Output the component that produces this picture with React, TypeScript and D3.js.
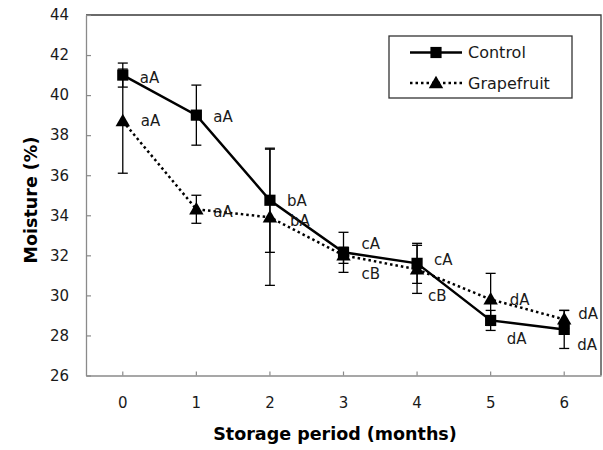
import React, { useEffect, useRef } from 'react';
import * as d3 from 'd3';

const months = ['0', '1', '2', '3', '4', '5', '6'];
const yTicks = [26, 28, 30, 32, 34, 36, 38, 40, 42, 44];

const controlMean = [41.0, 39.0, 34.75, 32.15, 31.6, 28.75, 28.3];
const controlErr = [0.6, 1.5, 2.6, 1.0, 1.0, 0.5, 0.95];
const controlLabels = ['aA', 'aA', 'bA', 'cA', 'cA', 'dA', 'dA'];

const grapeMean = [38.7, 34.3, 33.9, 32.0, 31.3, 29.8, 28.8];
const grapeErr = [2.6, 0.7, 3.4, 0.4, 1.2, 1.3, 0.45];
const grapeLabels = ['aA', 'aA', 'bA', 'cB', 'cB', 'dA', 'dA'];

const seriesNames = ['Control', 'Grapefruit'];

export default function App() {
  const svgRef = useRef<SVGSVGElement>(null);

  useEffect(() => {
    const svg = d3.select(svgRef.current);
    svg.selectAll('*').remove();

    const left = 86, right = 601, top = 15, bottom = 375.5;
    const font = 'DejaVu Sans, Verdana, sans-serif';
    const textColor = '#1a1a1a';

    const x = d3.scaleBand().domain(months).range([left, right]).padding(0);
    const cx = (m: string) => (x(m) as number) + x.bandwidth() / 2;
    const y = d3.scaleLinear().domain([26, 44]).range([bottom, top]);

    // frame (top / right border of plot area)
    svg.append('path')
      .attr('d', `M${left},${top}H${right}V${bottom}`)
      .attr('fill', 'none')
      .attr('stroke', '#3a3a3a')
      .attr('stroke-width', 1.3);

    // axes
    const yAxis = d3.axisLeft(y).tickValues(yTicks).tickSizeInner(-5).tickSizeOuter(0).tickPadding(17);
    const gy = svg.append('g').attr('transform', `translate(${left},0)`).call(yAxis);
    const xAxis = d3.axisBottom(x).tickSizeInner(-4).tickSizeOuter(0).tickPadding(22);
    const gx = svg.append('g').attr('transform', `translate(0,${bottom})`).call(xAxis);

    [gx, gy].forEach((g) => {
      g.select('.domain').attr('stroke', '#8a8a8a').attr('stroke-width', 1.3);
      g.selectAll('.tick line').attr('stroke', '#8a8a8a').attr('stroke-width', 1.2);
      g.selectAll('.tick text')
        .attr('font-family', font)
        .attr('font-size', 15)
        .attr('fill', textColor);
    });

    // axis titles
    svg.append('text')
      .attr('x', 335)
      .attr('y', 440)
      .attr('text-anchor', 'middle')
      .attr('font-family', font)
      .attr('font-weight', 'bold')
      .attr('font-size', 17.5)
      .attr('fill', '#000')
      .text('Storage period (months)');

    svg.append('text')
      .attr('transform', 'translate(37,200) rotate(-90)')
      .attr('text-anchor', 'middle')
      .attr('font-family', font)
      .attr('font-weight', 'bold')
      .attr('font-size', 17.5)
      .attr('fill', '#000')
      .text('Moisture (%)');

    const series = [
      { name: seriesNames[0], mean: controlMean, err: controlErr, labels: controlLabels, dash: null as string | null, marker: 'square' },
      { name: seriesNames[1], mean: grapeMean, err: grapeErr, labels: grapeLabels, dash: '2.5,3', marker: 'triangle' },
    ];

    const line = d3.line<number>()
      .x((_, i) => cx(months[i]))
      .y((d) => y(d));

    // lines (dotted first so solid sits over it)
    [series[1], series[0]].forEach((s) => {
      svg.append('path')
        .datum(s.mean)
        .attr('d', line)
        .attr('fill', 'none')
        .attr('stroke', '#000')
        .attr('stroke-width', 2.5)
        .attr('stroke-dasharray', s.dash);
    });

    // error bars
    series.forEach((s) => {
      const g = svg.append('g').attr('stroke', '#000').attr('stroke-width', 1.3);
      s.mean.forEach((v, i) => {
        const px = cx(months[i]);
        const y0 = y(v - s.err[i]);
        const y1 = y(v + s.err[i]);
        g.append('line').attr('x1', px).attr('x2', px).attr('y1', y0).attr('y2', y1);
        g.append('line').attr('x1', px - 5).attr('x2', px + 5).attr('y1', y0).attr('y2', y0);
        g.append('line').attr('x1', px - 5).attr('x2', px + 5).attr('y1', y1).attr('y2', y1);
      });
    });

    const square = d3.symbol().type(d3.symbolSquare).size(125);
    const triangle = d3.symbol().type(d3.symbolTriangle).size(90);

    // markers
    series.forEach((s) => {
      svg.append('g')
        .selectAll('path')
        .data(s.mean)
        .enter()
        .append('path')
        .attr('d', s.marker === 'square' ? square() : triangle())
        .attr('transform', (d, i) => `translate(${cx(months[i])},${y(d) + (s.marker === 'triangle' ? 1 : 0)})`)
        .attr('fill', '#000');
    });

    // significance letters, offset from each point
    const labelOffsets = [
      [[17, 3], [17, 2], [17, 0], [18, -9], [17, -4], [16, 18], [13, 15]],
      [[18, 0], [17, 2], [20, 3], [18, 18], [11, 26], [19, 0], [14, -6]],
    ];
    series.forEach((s, si) => {
      svg.append('g')
        .selectAll('text')
        .data(s.mean)
        .enter()
        .append('text')
        .attr('x', (d, i) => cx(months[i]) + labelOffsets[si][i][0])
        .attr('y', (d, i) => y(d) + labelOffsets[si][i][1])
        .attr('dy', '0.35em')
        .attr('font-family', font)
        .attr('font-size', 15)
        .attr('fill', textColor)
        .text((d, i) => s.labels[i]);
    });

    // legend
    const lg = svg.append('g');
    lg.append('rect')
      .attr('x', 389).attr('y', 36).attr('width', 183).attr('height', 62)
      .attr('fill', '#fff').attr('stroke', '#333').attr('stroke-width', 1.3);
    series.forEach((s, i) => {
      const ly = 52.5 + i * 30.5;
      lg.append('line')
        .attr('x1', 410).attr('x2', 462).attr('y1', ly).attr('y2', ly)
        .attr('stroke', '#000').attr('stroke-width', 2.5)
        .attr('stroke-dasharray', s.dash);
      lg.append('path')
        .attr('d', s.marker === 'square' ? square() : triangle())
        .attr('transform', `translate(436,${ly + (s.marker === 'triangle' ? 1 : 0)})`)
        .attr('fill', '#000');
      lg.append('text')
        .attr('x', 468).attr('y', ly).attr('dy', '0.35em')
        .attr('font-family', font).attr('font-size', 16)
        .attr('fill', textColor)
        .text(s.name);
    });
  }, []);

  return (
    <svg
      ref={svgRef}
      width={603}
      height={450}
      style={{ position: 'absolute', left: 0, top: 0, background: '#fff' }}
    />
  );
}
